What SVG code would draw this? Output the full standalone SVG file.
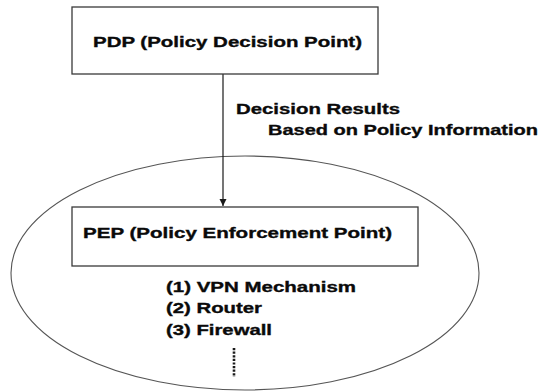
<svg xmlns="http://www.w3.org/2000/svg" width="542" height="391" viewBox="0 0 542 391">
<style>
  .box { fill: #ffffff; stroke: #3a3a3a; stroke-width: 1.3; }
  .t { font-family: "Liberation Sans", Arial, sans-serif; font-weight: bold; font-size: 15px; fill: #0a0a0a; stroke: #0a0a0a; stroke-width: 0.35; }
  .edge { stroke: #1a1a1a; stroke-width: 1.2; fill: none; }
</style>
<defs>
  <marker id="arrow" markerWidth="8" markerHeight="8" refX="7" refY="4" orient="auto" markerUnits="userSpaceOnUse">
    <path d="M0,0.5 L7,4 L0,7.5 Z" fill="#1a1a1a"/>
  </marker>
</defs>
<rect width="542" height="391" fill="#ffffff"/>
<g id="ellipse-group">
  <ellipse cx="245" cy="273" rx="234" ry="117" fill="none" stroke="#555555" stroke-width="1.1"/>
</g>
<g id="connectors">
  <line class="edge" x1="223" y1="74" x2="223" y2="206" marker-end="url(#arrow)"/>
  <text class="t" x="236" y="114" textLength="164" lengthAdjust="spacingAndGlyphs">Decision Results</text>
  <text class="t" x="268" y="135" textLength="270" lengthAdjust="spacingAndGlyphs">Based on Policy Information</text>
</g>
<g id="pdp">
  <rect class="box" x="72" y="7" width="306" height="67"/>
  <text class="t" x="93" y="47" textLength="269" lengthAdjust="spacingAndGlyphs">PDP (Policy Decision Point)</text>
</g>
<g id="pep">
  <rect class="box" x="72" y="207" width="346" height="59"/>
  <text class="t" x="83" y="238" textLength="309" lengthAdjust="spacingAndGlyphs">PEP (Policy Enforcement Point)</text>
</g>
<g id="pep-list">
  <text class="t" x="166" y="292" textLength="190" lengthAdjust="spacingAndGlyphs">(1) VPN Mechanism</text>
  <text class="t" x="166" y="313" textLength="96" lengthAdjust="spacingAndGlyphs">(2) Router</text>
  <text class="t" x="166" y="335" textLength="106" lengthAdjust="spacingAndGlyphs">(3) Firewall</text>
  <line x1="234" y1="348" x2="234" y2="377" stroke="#1a1a1a" stroke-width="2.6" stroke-dasharray="2.2 1.4"/>
</g>
</svg>
